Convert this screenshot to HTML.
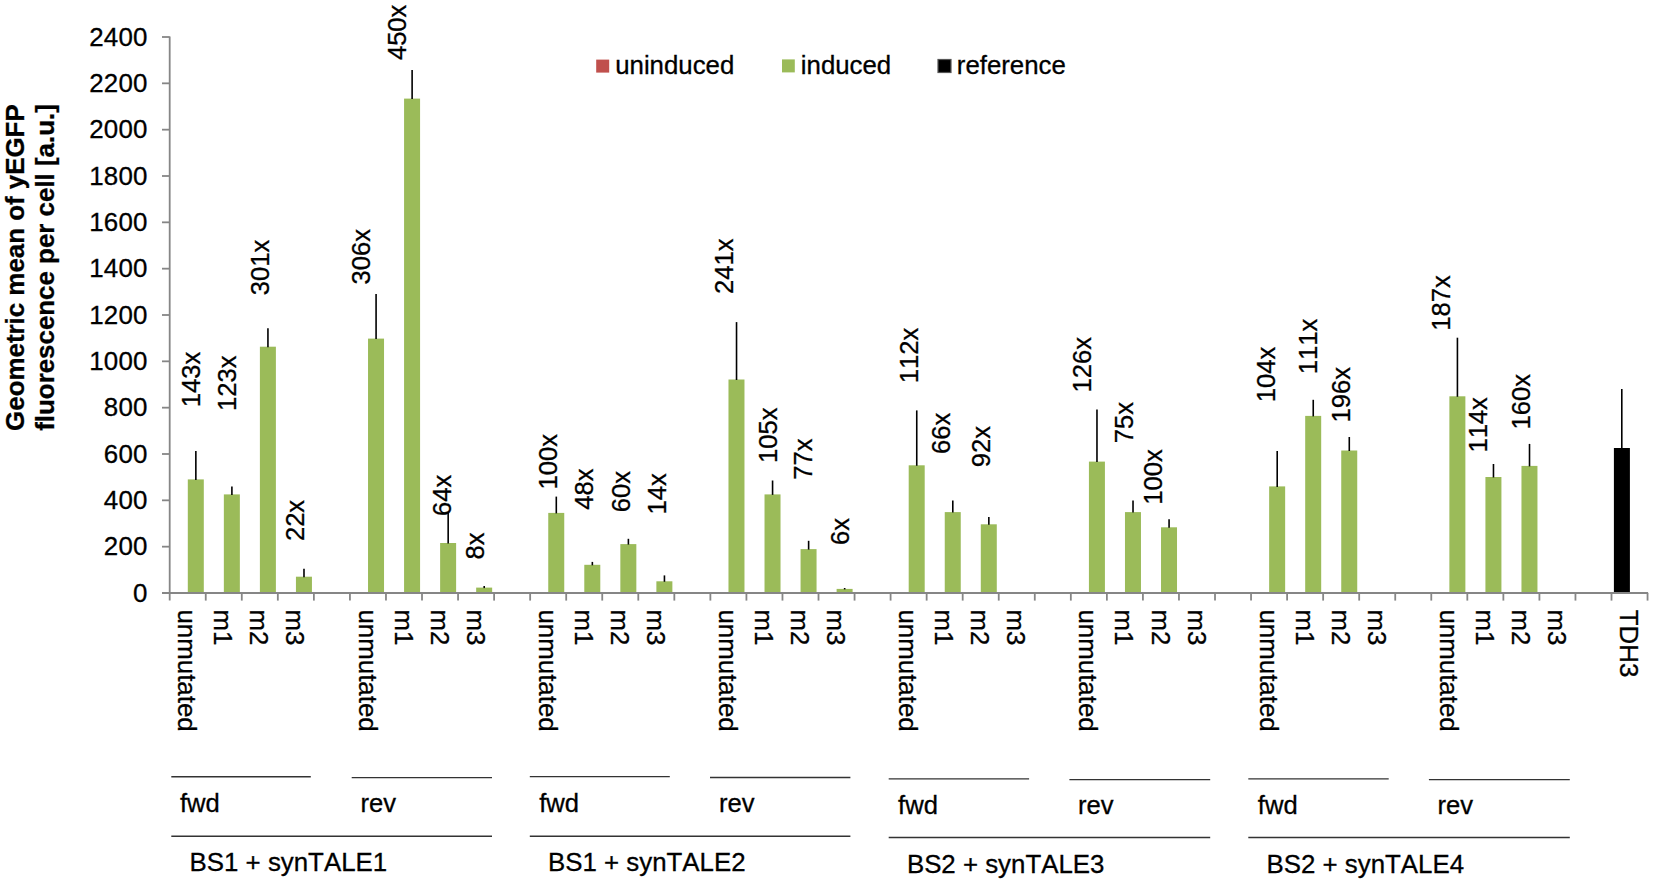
<!DOCTYPE html>
<html><head><meta charset="utf-8"><title>Figure</title>
<style>
html,body{margin:0;padding:0;background:#fff;}
body{width:1654px;height:884px;overflow:hidden;}
svg{display:block;}
text{font-family:"Liberation Sans",Arial,sans-serif;fill:#000;font-kerning:none;stroke:#000;stroke-width:0.3px;}
.t{font-size:25.6px;}
.b{font-size:25.9px;font-weight:bold;stroke-width:0.15px;}
.g{font-size:25.6px;}
.c{font-size:25.9px;}
.y{font-size:25.9px;letter-spacing:0.15px;}
.l{font-size:25.8px;}
</style></head><body>
<svg width="1654" height="884" viewBox="0 0 1654 884">
<rect width="1654" height="884" fill="#fff"/>

<g fill="#9bbb59">
<rect x="187.80" y="479.40" width="16" height="113.60"/>
<rect x="223.85" y="494.40" width="16" height="98.60"/>
<rect x="259.89" y="346.70" width="16" height="246.30"/>
<rect x="295.94" y="576.70" width="16" height="16.30"/>
<rect x="368.03" y="338.60" width="16" height="254.40"/>
<rect x="404.07" y="98.60" width="16" height="494.40"/>
<rect x="440.12" y="543.00" width="16" height="50.00"/>
<rect x="476.16" y="587.60" width="16" height="5.40"/>
<rect x="548.25" y="512.90" width="16" height="80.10"/>
<rect x="584.29" y="564.80" width="16" height="28.20"/>
<rect x="620.34" y="544.10" width="16" height="48.90"/>
<rect x="656.38" y="581.30" width="16" height="11.70"/>
<rect x="728.48" y="379.50" width="16" height="213.50"/>
<rect x="764.52" y="494.40" width="16" height="98.60"/>
<rect x="800.56" y="549.10" width="16" height="43.90"/>
<rect x="836.61" y="588.90" width="16" height="4.10"/>
<rect x="908.70" y="465.30" width="16" height="127.70"/>
<rect x="944.75" y="512.10" width="16" height="80.90"/>
<rect x="980.79" y="524.30" width="16" height="68.70"/>
<rect x="1016.84" y="592.30" width="16" height="0.70"/>
<rect x="1088.92" y="461.60" width="16" height="131.40"/>
<rect x="1124.97" y="512.10" width="16" height="80.90"/>
<rect x="1161.02" y="527.30" width="16" height="65.70"/>
<rect x="1197.06" y="592.50" width="16" height="0.50"/>
<rect x="1269.15" y="486.40" width="16" height="106.60"/>
<rect x="1305.19" y="415.90" width="16" height="177.10"/>
<rect x="1341.24" y="450.50" width="16" height="142.50"/>
<rect x="1377.29" y="592.50" width="16" height="0.50"/>
<rect x="1449.38" y="396.30" width="16" height="196.70"/>
<rect x="1485.42" y="477.00" width="16" height="116.00"/>
<rect x="1521.46" y="465.90" width="16" height="127.10"/>
<rect x="1557.51" y="592.00" width="16" height="1.00"/>
</g>
<g fill="#c0504d">
<rect x="1289.39" y="592.00" width="16" height="1.00"/>
</g>
<rect x="1613.9" y="448" width="16" height="145" fill="#000"/>
<g stroke="#000" stroke-width="1.6" fill="none">
<line x1="195.85" y1="451.10" x2="195.85" y2="479.90"/>
<line x1="231.90" y1="486.40" x2="231.90" y2="494.90"/>
<line x1="267.94" y1="328.20" x2="267.94" y2="347.20"/>
<line x1="303.99" y1="568.70" x2="303.99" y2="577.20"/>
<line x1="376.08" y1="294.00" x2="376.08" y2="339.10"/>
<line x1="412.12" y1="70.10" x2="412.12" y2="99.10"/>
<line x1="448.17" y1="512.50" x2="448.17" y2="543.50"/>
<line x1="484.21" y1="586.00" x2="484.21" y2="588.10"/>
<line x1="556.30" y1="496.60" x2="556.30" y2="513.40"/>
<line x1="592.35" y1="561.90" x2="592.35" y2="565.30"/>
<line x1="628.39" y1="538.80" x2="628.39" y2="544.60"/>
<line x1="664.44" y1="575.40" x2="664.44" y2="581.80"/>
<line x1="736.53" y1="322.10" x2="736.53" y2="380.00"/>
<line x1="772.57" y1="480.50" x2="772.57" y2="494.90"/>
<line x1="808.62" y1="540.80" x2="808.62" y2="549.60"/>
<line x1="844.66" y1="588.00" x2="844.66" y2="589.40"/>
<line x1="916.75" y1="410.40" x2="916.75" y2="465.80"/>
<line x1="952.80" y1="500.50" x2="952.80" y2="512.60"/>
<line x1="988.84" y1="517.10" x2="988.84" y2="524.80"/>
<line x1="1096.97" y1="409.60" x2="1096.97" y2="462.10"/>
<line x1="1133.02" y1="500.50" x2="1133.02" y2="512.60"/>
<line x1="1169.07" y1="519.30" x2="1169.07" y2="527.80"/>
<line x1="1277.20" y1="450.90" x2="1277.20" y2="486.90"/>
<line x1="1313.24" y1="399.80" x2="1313.24" y2="416.40"/>
<line x1="1349.29" y1="437.00" x2="1349.29" y2="451.00"/>
<line x1="1457.42" y1="337.70" x2="1457.42" y2="396.80"/>
<line x1="1493.47" y1="464.00" x2="1493.47" y2="477.50"/>
<line x1="1529.51" y1="443.90" x2="1529.51" y2="466.40"/>
<line x1="1621.8" y1="389" x2="1621.8" y2="448.5"/>
</g>
<g stroke="#868686" stroke-width="1.8" fill="none">
<line x1="169.7" y1="36.6" x2="169.7" y2="600.6"/>
<line x1="162" y1="593" x2="1648.1" y2="593"/>
<line x1="162" y1="546.67" x2="169.7" y2="546.67"/>
<line x1="162" y1="500.33" x2="169.7" y2="500.33"/>
<line x1="162" y1="454.00" x2="169.7" y2="454.00"/>
<line x1="162" y1="407.67" x2="169.7" y2="407.67"/>
<line x1="162" y1="361.33" x2="169.7" y2="361.33"/>
<line x1="162" y1="315.00" x2="169.7" y2="315.00"/>
<line x1="162" y1="268.67" x2="169.7" y2="268.67"/>
<line x1="162" y1="222.33" x2="169.7" y2="222.33"/>
<line x1="162" y1="176.00" x2="169.7" y2="176.00"/>
<line x1="162" y1="129.67" x2="169.7" y2="129.67"/>
<line x1="162" y1="83.33" x2="169.7" y2="83.33"/>
<line x1="162" y1="37.00" x2="169.7" y2="37.00"/>
<line x1="205.75" y1="593" x2="205.75" y2="600.6"/>
<line x1="241.79" y1="593" x2="241.79" y2="600.6"/>
<line x1="277.83" y1="593" x2="277.83" y2="600.6"/>
<line x1="313.88" y1="593" x2="313.88" y2="600.6"/>
<line x1="349.93" y1="593" x2="349.93" y2="600.6"/>
<line x1="385.97" y1="593" x2="385.97" y2="600.6"/>
<line x1="422.01" y1="593" x2="422.01" y2="600.6"/>
<line x1="458.06" y1="593" x2="458.06" y2="600.6"/>
<line x1="494.11" y1="593" x2="494.11" y2="600.6"/>
<line x1="530.15" y1="593" x2="530.15" y2="600.6"/>
<line x1="566.20" y1="593" x2="566.20" y2="600.6"/>
<line x1="602.24" y1="593" x2="602.24" y2="600.6"/>
<line x1="638.29" y1="593" x2="638.29" y2="600.6"/>
<line x1="674.33" y1="593" x2="674.33" y2="600.6"/>
<line x1="710.38" y1="593" x2="710.38" y2="600.6"/>
<line x1="746.42" y1="593" x2="746.42" y2="600.6"/>
<line x1="782.47" y1="593" x2="782.47" y2="600.6"/>
<line x1="818.51" y1="593" x2="818.51" y2="600.6"/>
<line x1="854.56" y1="593" x2="854.56" y2="600.6"/>
<line x1="890.60" y1="593" x2="890.60" y2="600.6"/>
<line x1="926.65" y1="593" x2="926.65" y2="600.6"/>
<line x1="962.69" y1="593" x2="962.69" y2="600.6"/>
<line x1="998.74" y1="593" x2="998.74" y2="600.6"/>
<line x1="1034.78" y1="593" x2="1034.78" y2="600.6"/>
<line x1="1070.83" y1="593" x2="1070.83" y2="600.6"/>
<line x1="1106.87" y1="593" x2="1106.87" y2="600.6"/>
<line x1="1142.92" y1="593" x2="1142.92" y2="600.6"/>
<line x1="1178.96" y1="593" x2="1178.96" y2="600.6"/>
<line x1="1215.01" y1="593" x2="1215.01" y2="600.6"/>
<line x1="1251.05" y1="593" x2="1251.05" y2="600.6"/>
<line x1="1287.10" y1="593" x2="1287.10" y2="600.6"/>
<line x1="1323.14" y1="593" x2="1323.14" y2="600.6"/>
<line x1="1359.19" y1="593" x2="1359.19" y2="600.6"/>
<line x1="1395.23" y1="593" x2="1395.23" y2="600.6"/>
<line x1="1431.28" y1="593" x2="1431.28" y2="600.6"/>
<line x1="1467.32" y1="593" x2="1467.32" y2="600.6"/>
<line x1="1503.37" y1="593" x2="1503.37" y2="600.6"/>
<line x1="1539.41" y1="593" x2="1539.41" y2="600.6"/>
<line x1="1575.46" y1="593" x2="1575.46" y2="600.6"/>
<line x1="1611.50" y1="593" x2="1611.50" y2="600.6"/>
<line x1="1647.55" y1="593" x2="1647.55" y2="600.6"/>
</g>
<g class="y" text-anchor="end">
<text x="147.5" y="601.50">0</text>
<text x="147.5" y="555.17">200</text>
<text x="147.5" y="508.83">400</text>
<text x="147.5" y="462.50">600</text>
<text x="147.5" y="416.17">800</text>
<text x="147.5" y="369.83">1000</text>
<text x="147.5" y="323.50">1200</text>
<text x="147.5" y="277.17">1400</text>
<text x="147.5" y="230.83">1600</text>
<text x="147.5" y="184.50">1800</text>
<text x="147.5" y="138.17">2000</text>
<text x="147.5" y="91.83">2200</text>
<text x="147.5" y="45.50">2400</text>
</g>
<g class="b" text-anchor="middle">
<text transform="translate(24.20 267.60) rotate(-90)">Geometric mean of yEGFP</text>
<text transform="translate(53.50 267.50) rotate(-90)">fluorescence per cell [a.u.]</text>
</g>
<rect x="596.2" y="59.6" width="13" height="13" fill="#c0504d"/>
<rect x="782" y="59.4" width="12.8" height="13" fill="#9bbb59"/>
<rect x="938" y="59.5" width="13" height="13" fill="#000" stroke="#555" stroke-width="1.2"/>
<g class="l">
<text x="615.20" y="73.6">uninduced</text>
<text x="800.80" y="73.6">induced</text>
<text x="956.80" y="73.6">reference</text>
</g>
<g class="t">
<text transform="translate(200.10 407.30) rotate(-90)">143x</text>
<text transform="translate(236.00 411.00) rotate(-90)">123x</text>
<text transform="translate(268.60 295.20) rotate(-90)">301x</text>
<text transform="translate(303.60 541.10) rotate(-90)">22x</text>
<text transform="translate(369.90 284.40) rotate(-90)">306x</text>
<text transform="translate(406.40 60.10) rotate(-90)">450x</text>
<text transform="translate(451.10 515.90) rotate(-90)">64x</text>
<text transform="translate(484.30 559.50) rotate(-90)">8x</text>
<text transform="translate(557.30 489.50) rotate(-90)">100x</text>
<text transform="translate(592.80 509.70) rotate(-90)">48x</text>
<text transform="translate(629.60 512.30) rotate(-90)">60x</text>
<text transform="translate(666.10 514.50) rotate(-90)">14x</text>
<text transform="translate(733.20 294.00) rotate(-90)">241x</text>
<text transform="translate(776.50 462.90) rotate(-90)">105x</text>
<text transform="translate(812.40 479.80) rotate(-90)">77x</text>
<text transform="translate(849.00 545.00) rotate(-90)">6x</text>
<text transform="translate(917.90 383.30) rotate(-90)">112x</text>
<text transform="translate(949.90 454.00) rotate(-90)">66x</text>
<text transform="translate(989.80 467.30) rotate(-90)">92x</text>
<text transform="translate(1091.40 392.40) rotate(-90)">126x</text>
<text transform="translate(1133.40 443.30) rotate(-90)">75x</text>
<text transform="translate(1161.70 504.70) rotate(-90)">100x</text>
<text transform="translate(1274.70 402.20) rotate(-90)">104x</text>
<text transform="translate(1316.50 374.30) rotate(-90)">111x</text>
<text transform="translate(1350.20 422.40) rotate(-90)">196x</text>
<text transform="translate(1450.30 330.80) rotate(-90)">187x</text>
<text transform="translate(1487.30 452.60) rotate(-90)">114x</text>
<text transform="translate(1530.30 429.50) rotate(-90)">160x</text>
</g>
<g class="c">
<text transform="translate(178.30 609.40) rotate(90)">unmutated</text>
<text transform="translate(214.35 609.40) rotate(90)">m1</text>
<text transform="translate(250.39 609.40) rotate(90)">m2</text>
<text transform="translate(286.44 609.40) rotate(90)">m3</text>
<text transform="translate(358.53 609.40) rotate(90)">unmutated</text>
<text transform="translate(394.57 609.40) rotate(90)">m1</text>
<text transform="translate(430.62 609.40) rotate(90)">m2</text>
<text transform="translate(466.66 609.40) rotate(90)">m3</text>
<text transform="translate(538.75 609.40) rotate(90)">unmutated</text>
<text transform="translate(574.79 609.40) rotate(90)">m1</text>
<text transform="translate(610.84 609.40) rotate(90)">m2</text>
<text transform="translate(646.88 609.40) rotate(90)">m3</text>
<text transform="translate(718.98 609.40) rotate(90)">unmutated</text>
<text transform="translate(755.02 609.40) rotate(90)">m1</text>
<text transform="translate(791.06 609.40) rotate(90)">m2</text>
<text transform="translate(827.11 609.40) rotate(90)">m3</text>
<text transform="translate(899.20 609.40) rotate(90)">unmutated</text>
<text transform="translate(935.25 609.40) rotate(90)">m1</text>
<text transform="translate(971.29 609.40) rotate(90)">m2</text>
<text transform="translate(1007.34 609.40) rotate(90)">m3</text>
<text transform="translate(1079.42 609.40) rotate(90)">unmutated</text>
<text transform="translate(1115.47 609.40) rotate(90)">m1</text>
<text transform="translate(1151.52 609.40) rotate(90)">m2</text>
<text transform="translate(1187.56 609.40) rotate(90)">m3</text>
<text transform="translate(1259.65 609.40) rotate(90)">unmutated</text>
<text transform="translate(1295.69 609.40) rotate(90)">m1</text>
<text transform="translate(1331.74 609.40) rotate(90)">m2</text>
<text transform="translate(1367.79 609.40) rotate(90)">m3</text>
<text transform="translate(1439.88 609.40) rotate(90)">unmutated</text>
<text transform="translate(1475.92 609.40) rotate(90)">m1</text>
<text transform="translate(1511.96 609.40) rotate(90)">m2</text>
<text transform="translate(1548.01 609.40) rotate(90)">m3</text>
<text transform="translate(1620.40 609.70) rotate(90)">TDH3</text>
</g>
<g stroke="#333" stroke-width="1.4" fill="none">
<line x1="171.3" y1="776.7" x2="310.8" y2="776.7"/>
<line x1="351.7" y1="777.6" x2="492.0" y2="777.6"/>
<line x1="171.3" y1="836.2" x2="492.0" y2="836.2"/>
<line x1="529.8" y1="776.6" x2="669.8" y2="776.6"/>
<line x1="710.0" y1="777.5" x2="850.4" y2="777.5"/>
<line x1="529.8" y1="836.2" x2="850.4" y2="836.2"/>
<line x1="888.7" y1="778.9" x2="1029.1" y2="778.9"/>
<line x1="1069.4" y1="779.6" x2="1210.2" y2="779.6"/>
<line x1="888.7" y1="837.5" x2="1210.2" y2="837.5"/>
<line x1="1248.3" y1="778.9" x2="1388.7" y2="778.9"/>
<line x1="1428.9" y1="779.6" x2="1569.8" y2="779.6"/>
<line x1="1248.3" y1="837.5" x2="1569.8" y2="837.5"/>
</g>
<g class="g">
<text x="180.00" y="811.80">fwd</text>
<text x="360.50" y="812.30">rev</text>
<text x="189.60" y="870.70" style="font-size:25.85px">BS1 + synTALE1</text>
<text x="539.20" y="811.80">fwd</text>
<text x="719.00" y="812.30">rev</text>
<text x="548.00" y="870.70" style="font-size:25.85px">BS1 + synTALE2</text>
<text x="898.10" y="814.00">fwd</text>
<text x="1077.90" y="814.40">rev</text>
<text x="906.90" y="873.00" style="font-size:25.85px">BS2 + synTALE3</text>
<text x="1257.80" y="814.00">fwd</text>
<text x="1437.40" y="814.40">rev</text>
<text x="1266.50" y="873.00" style="font-size:25.85px">BS2 + synTALE4</text>
</g>
</svg></body></html>
